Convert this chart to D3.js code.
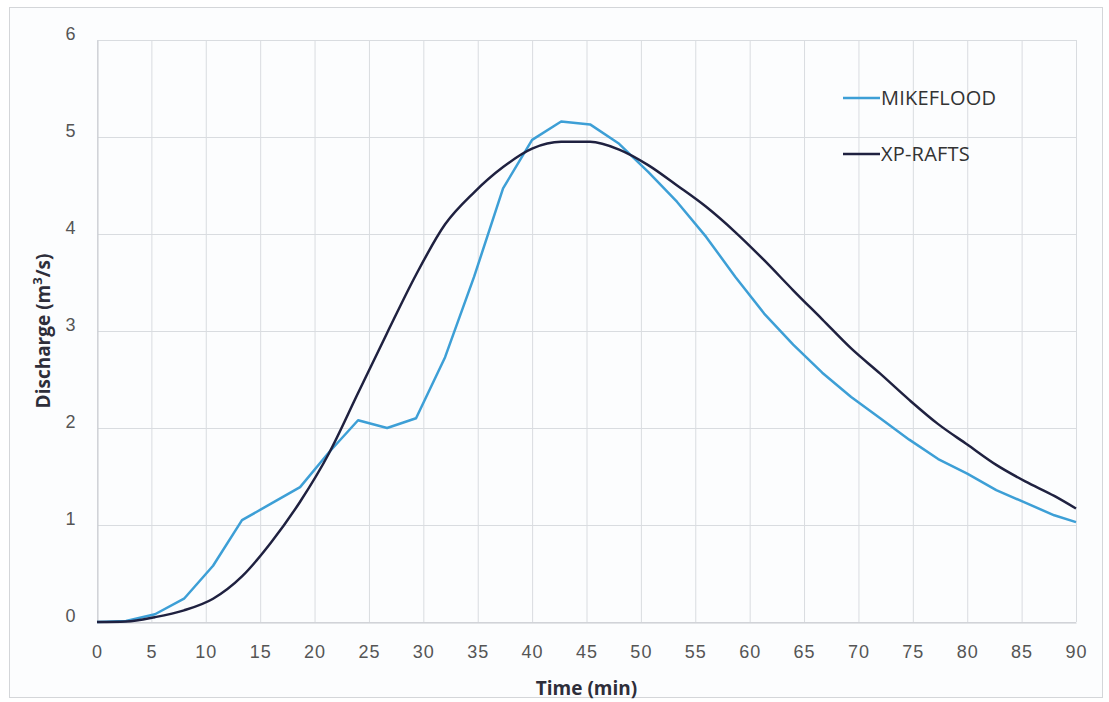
<!DOCTYPE html>
<html>
<head>
<meta charset="utf-8">
<title>Discharge hydrograph</title>
<style>
  body { margin: 0; background: #fff; }
  svg { font-family: "Open Sans", Lato, sans-serif; }
  .grid line { stroke: #d9dce0; stroke-width: 1; }
  .tick text { fill: #555; font-size: 18px; letter-spacing: 1px; }
  .title { fill: #2e2e3a; font-size: 19px; font-weight: bold; }
  .legend text { fill: #333; font-size: 20px; letter-spacing: 0.2px; }
</style>
</head>
<body>
<div id="chart"></div>
<script src="https://d3js.org/d3.v7.min.js"></script>
<script>
// time (min) of each hydrograph ordinate
var times = [0, 2.67, 5.33, 8, 10.67, 13.33, 16, 18.67, 21.33, 24, 26.67, 29.33, 32, 34.67,
  37.33, 40, 42.67, 45.33, 48, 50.67, 53.33, 56, 58.67, 61.33, 64, 66.67, 69.33, 72,
  74.67, 77.33, 80, 82.67, 85.33, 88, 90];

var mikeflood = [0, 0.01, 0.08, 0.24, 0.58, 1.05, 1.22, 1.39, 1.75, 2.08, 2.0, 2.1, 2.73, 3.56,
  4.47, 4.97, 5.16, 5.13, 4.93, 4.64, 4.33, 3.97, 3.56, 3.18, 2.86, 2.57, 2.32, 2.1,
  1.88, 1.68, 1.53, 1.36, 1.23, 1.1, 1.03];

var xprafts = [0, 0.005, 0.05, 0.12, 0.24, 0.47, 0.82, 1.24, 1.74, 2.36, 2.98, 3.58, 4.1, 4.43,
  4.69, 4.88, 4.95, 4.95, 4.87, 4.71, 4.5, 4.28, 4.02, 3.73, 3.42, 3.12, 2.82, 2.56,
  2.29, 2.04, 1.83, 1.62, 1.45, 1.3, 1.17];

var xTicks = d3.range(0, 91, 5);
var yTicks = [0, 1, 2, 3, 4, 5, 6];

var series = [
  { name: "MIKEFLOOD", values: mikeflood, color: "#3d9fd6", curve: d3.curveLinear },
  { name: "XP-RAFTS", values: xprafts, color: "#1f2140", curve: d3.curveMonotoneX }
];

var width = 1109, height = 702;
var margin = { left: 97, right: 33, top: 40, bottom: 80 };

var svg = d3.select("#chart").append("svg")
  .attr("width", width)
  .attr("height", height);

// outer frame
svg.append("rect")
  .attr("x", 9.5).attr("y", 7.5)
  .attr("width", 1093).attr("height", 690)
  .attr("fill", "#fcfdfe")
  .attr("stroke", "#d4d6d9");

var x = d3.scaleLinear().domain([0, 90]).range([margin.left, width - margin.right]);
var y = d3.scaleLinear().domain([0, 6]).range([height - margin.bottom, margin.top]);

// grid
svg.append("g").attr("class", "grid")
  .selectAll("line.v").data(xTicks).enter().append("line")
  .attr("x1", d => x(d) + 0.5).attr("x2", d => x(d) + 0.5)
  .attr("y1", y(6)).attr("y2", y(0));
svg.append("g").attr("class", "grid")
  .selectAll("line.h").data(yTicks).enter().append("line")
  .attr("x1", x(0)).attr("x2", x(90))
  .attr("y1", d => y(d) + 0.5).attr("y2", d => y(d) + 0.5);

// axes
var xAxis = svg.append("g")
  .attr("transform", "translate(0," + (y(0) + 0.5) + ")")
  .call(d3.axisBottom(x).tickValues(xTicks).tickSize(0).tickPadding(23));
xAxis.select(".domain").attr("stroke", "#c8cbd0");

var yAxis = svg.append("g")
  .attr("transform", "translate(" + (x(0) + 0.5) + ",0)")
  .call(d3.axisLeft(y).tickValues(yTicks).tickFormat(d3.format("d")).tickSize(0).tickPadding(21));
yAxis.select(".domain").attr("stroke", "#c8cbd0");
yAxis.selectAll(".tick text").attr("dy", "-0.05em");

// axis titles
svg.append("text").attr("class", "title")
  .attr("x", (x(0) + x(90)) / 2).attr("y", 695)
  .attr("text-anchor", "middle")
  .text("Time (min)");

var yt = svg.append("text").attr("class", "title")
  .attr("transform", "translate(50," + y(3) + ") rotate(-90)")
  .attr("text-anchor", "middle");
yt.append("tspan").text("Discharge (m");
yt.append("tspan").attr("dy", "-8").attr("font-size", "13px").text("3");
yt.append("tspan").attr("dy", "8").text("/s)");

// lines
svg.selectAll("path.series").data(series).enter().append("path")
  .attr("class", "series")
  .attr("fill", "none")
  .attr("stroke", d => d.color)
  .attr("stroke-width", 2.5)
  .attr("stroke-linejoin", "round")
  .attr("d", d => d3.line()
    .curve(d.curve)
    .x((v, i) => x(times[i]))
    .y(v => y(v))(d.values));

// legend
var legend = svg.append("g").attr("class", "legend")
  .selectAll("g").data(series).enter().append("g")
  .attr("transform", (d, i) => "translate(843," + (98 + i * 56) + ")");
legend.append("line")
  .attr("x1", 0).attr("x2", 37)
  .attr("stroke", d => d.color).attr("stroke-width", 2.5);
legend.append("text")
  .attr("x", 38).attr("dy", "0.35em")
  .text(d => d.name);
</script>
</body>
</html>
